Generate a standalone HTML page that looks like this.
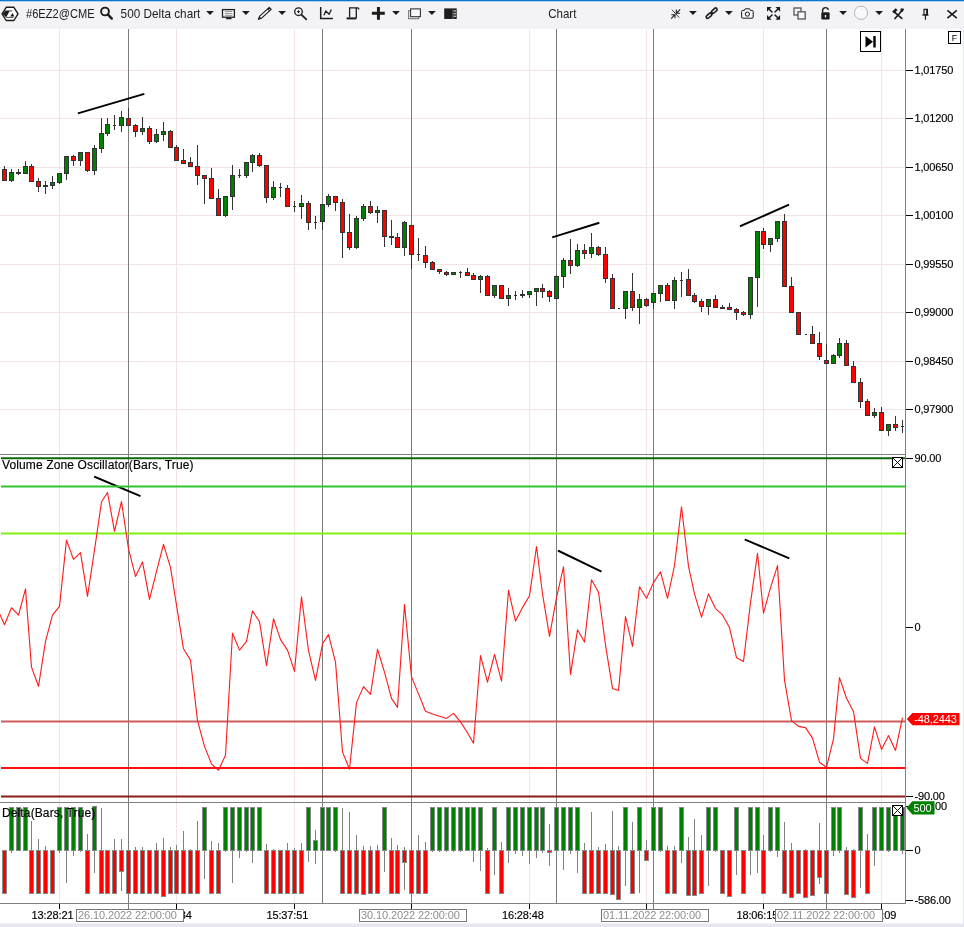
<!DOCTYPE html>
<html><head><meta charset="utf-8"><title>Chart</title>
<style>html,body{margin:0;padding:0;background:#fff}svg{display:block}text{font-family:"Liberation Sans",Arial,sans-serif}</style></head><body>
<svg width="964" height="927" viewBox="0 0 964 927">
<rect width="964" height="927" fill="#fff"/>
<g stroke="#f0e4e7" stroke-width="1" shape-rendering="crispEdges">
<line x1="59.5" y1="29" x2="59.5" y2="903"/>
<line x1="176.5" y1="29" x2="176.5" y2="903"/>
<line x1="294.5" y1="29" x2="294.5" y2="903"/>
<line x1="411.5" y1="29" x2="411.5" y2="903"/>
<line x1="529.5" y1="29" x2="529.5" y2="903"/>
<line x1="646.5" y1="29" x2="646.5" y2="903"/>
<line x1="763.5" y1="29" x2="763.5" y2="903"/>
<line x1="881.5" y1="29" x2="881.5" y2="903"/>
<line x1="0" y1="70.5" x2="905" y2="70.5"/>
<line x1="0" y1="118.5" x2="905" y2="118.5"/>
<line x1="0" y1="167.5" x2="905" y2="167.5"/>
<line x1="0" y1="215.5" x2="905" y2="215.5"/>
<line x1="0" y1="264.5" x2="905" y2="264.5"/>
<line x1="0" y1="312.5" x2="905" y2="312.5"/>
<line x1="0" y1="361.5" x2="905" y2="361.5"/>
<line x1="0" y1="409.5" x2="905" y2="409.5"/>
</g>
<g stroke="#7c7c7c" stroke-width="1" shape-rendering="crispEdges">
<line x1="128.5" y1="29" x2="128.5" y2="903"/>
<line x1="322.5" y1="29" x2="322.5" y2="903"/>
<line x1="411.5" y1="29" x2="411.5" y2="903"/>
<line x1="556.5" y1="29" x2="556.5" y2="903"/>
<line x1="653.5" y1="29" x2="653.5" y2="903"/>
<line x1="826.5" y1="29" x2="826.5" y2="903"/>
</g>
<g shape-rendering="crispEdges">
<rect x="4.0" y="166" width="1" height="15" fill="#333"/>
<rect x="2.0" y="169" width="5" height="12" fill="#333"/>
<rect x="3.0" y="170" width="3" height="10" fill="#ff0000"/>
<rect x="11.0" y="169" width="1" height="13" fill="#333"/>
<rect x="9.0" y="172" width="5" height="9" fill="#333"/>
<rect x="10.0" y="173" width="3" height="7" fill="#008000"/>
<rect x="18.0" y="169" width="1" height="6" fill="#333"/>
<rect x="16.0" y="172" width="5" height="2" fill="#333"/>
<rect x="25.0" y="161" width="1" height="13" fill="#333"/>
<rect x="23.0" y="166" width="5" height="8" fill="#333"/>
<rect x="24.0" y="167" width="3" height="6" fill="#008000"/>
<rect x="31.0" y="164" width="1" height="18" fill="#333"/>
<rect x="29.0" y="166" width="5" height="16" fill="#333"/>
<rect x="30.0" y="167" width="3" height="14" fill="#ff0000"/>
<rect x="38.0" y="178" width="1" height="14" fill="#333"/>
<rect x="36.0" y="181" width="5" height="6" fill="#333"/>
<rect x="37.0" y="182" width="3" height="4" fill="#ff0000"/>
<rect x="45.0" y="181" width="1" height="13" fill="#333"/>
<rect x="43.0" y="185" width="5" height="2" fill="#333"/>
<rect x="52.0" y="176" width="1" height="13" fill="#333"/>
<rect x="50.0" y="182" width="5" height="4" fill="#333"/>
<rect x="51.0" y="183" width="3" height="2" fill="#008000"/>
<rect x="59.0" y="173" width="1" height="11" fill="#333"/>
<rect x="57.0" y="173" width="5" height="10" fill="#333"/>
<rect x="58.0" y="174" width="3" height="8" fill="#008000"/>
<rect x="66.0" y="156" width="1" height="24" fill="#333"/>
<rect x="64.0" y="156" width="5" height="18" fill="#333"/>
<rect x="65.0" y="157" width="3" height="16" fill="#008000"/>
<rect x="73.0" y="155" width="1" height="11" fill="#333"/>
<rect x="71.0" y="156" width="5" height="5" fill="#333"/>
<rect x="72.0" y="157" width="3" height="3" fill="#ff0000"/>
<rect x="80.0" y="152" width="1" height="14" fill="#333"/>
<rect x="78.0" y="152" width="5" height="9" fill="#333"/>
<rect x="79.0" y="153" width="3" height="7" fill="#008000"/>
<rect x="87.0" y="152" width="1" height="20" fill="#333"/>
<rect x="85.0" y="152" width="5" height="19" fill="#333"/>
<rect x="86.0" y="153" width="3" height="17" fill="#ff0000"/>
<rect x="94.0" y="145" width="1" height="30" fill="#333"/>
<rect x="92.0" y="148" width="5" height="23" fill="#333"/>
<rect x="93.0" y="149" width="3" height="21" fill="#008000"/>
<rect x="101.0" y="118" width="1" height="35" fill="#333"/>
<rect x="99.0" y="133" width="5" height="16" fill="#333"/>
<rect x="100.0" y="134" width="3" height="14" fill="#008000"/>
<rect x="107.0" y="118" width="1" height="18" fill="#333"/>
<rect x="105.0" y="124" width="5" height="10" fill="#333"/>
<rect x="106.0" y="125" width="3" height="8" fill="#008000"/>
<rect x="114.0" y="115" width="1" height="15" fill="#333"/>
<rect x="113.0" y="125" width="3" height="1" fill="#333"/>
<rect x="121.0" y="111" width="1" height="21" fill="#333"/>
<rect x="119.0" y="117" width="5" height="9" fill="#333"/>
<rect x="120.0" y="118" width="3" height="7" fill="#008000"/>
<rect x="128.0" y="108" width="1" height="18" fill="#333"/>
<rect x="126.0" y="118" width="5" height="8" fill="#333"/>
<rect x="127.0" y="119" width="3" height="6" fill="#ff0000"/>
<rect x="135.0" y="124" width="1" height="13" fill="#333"/>
<rect x="133.0" y="125" width="5" height="7" fill="#333"/>
<rect x="134.0" y="126" width="3" height="5" fill="#ff0000"/>
<rect x="142.0" y="117" width="1" height="18" fill="#333"/>
<rect x="140.0" y="128" width="5" height="4" fill="#333"/>
<rect x="141.0" y="129" width="3" height="2" fill="#008000"/>
<rect x="149.0" y="126" width="1" height="18" fill="#333"/>
<rect x="147.0" y="128" width="5" height="14" fill="#333"/>
<rect x="148.0" y="129" width="3" height="12" fill="#ff0000"/>
<rect x="156.0" y="129" width="1" height="14" fill="#333"/>
<rect x="154.0" y="134" width="5" height="8" fill="#333"/>
<rect x="155.0" y="135" width="3" height="6" fill="#008000"/>
<rect x="163.0" y="122" width="1" height="19" fill="#333"/>
<rect x="161.0" y="131" width="5" height="4" fill="#333"/>
<rect x="162.0" y="132" width="3" height="2" fill="#008000"/>
<rect x="170.0" y="130" width="1" height="17" fill="#333"/>
<rect x="168.0" y="131" width="5" height="17" fill="#333"/>
<rect x="169.0" y="132" width="3" height="15" fill="#ff0000"/>
<rect x="176.0" y="145" width="1" height="16" fill="#333"/>
<rect x="174.0" y="147" width="5" height="14" fill="#333"/>
<rect x="175.0" y="148" width="3" height="12" fill="#ff0000"/>
<rect x="183.0" y="149" width="1" height="15" fill="#333"/>
<rect x="181.0" y="160" width="5" height="4" fill="#333"/>
<rect x="182.0" y="161" width="3" height="2" fill="#ff0000"/>
<rect x="190.0" y="157" width="1" height="9" fill="#333"/>
<rect x="188.0" y="162" width="5" height="5" fill="#333"/>
<rect x="189.0" y="163" width="3" height="3" fill="#ff0000"/>
<rect x="197.0" y="145" width="1" height="40" fill="#333"/>
<rect x="195.0" y="166" width="5" height="10" fill="#333"/>
<rect x="196.0" y="167" width="3" height="8" fill="#ff0000"/>
<rect x="204.0" y="175" width="1" height="29" fill="#333"/>
<rect x="202.0" y="175" width="5" height="4" fill="#333"/>
<rect x="203.0" y="176" width="3" height="2" fill="#ff0000"/>
<rect x="211.0" y="168" width="1" height="31" fill="#333"/>
<rect x="209.0" y="178" width="5" height="21" fill="#333"/>
<rect x="210.0" y="179" width="3" height="19" fill="#ff0000"/>
<rect x="218.0" y="189" width="1" height="26" fill="#333"/>
<rect x="216.0" y="198" width="5" height="18" fill="#333"/>
<rect x="217.0" y="199" width="3" height="16" fill="#ff0000"/>
<rect x="225.0" y="196" width="1" height="21" fill="#333"/>
<rect x="223.0" y="196" width="5" height="20" fill="#333"/>
<rect x="224.0" y="197" width="3" height="18" fill="#008000"/>
<rect x="232.0" y="165" width="1" height="45" fill="#333"/>
<rect x="230.0" y="175" width="5" height="22" fill="#333"/>
<rect x="231.0" y="176" width="3" height="20" fill="#008000"/>
<rect x="239.0" y="169" width="1" height="9" fill="#333"/>
<rect x="238.0" y="175" width="3" height="1" fill="#333"/>
<rect x="246.0" y="162" width="1" height="16" fill="#333"/>
<rect x="244.0" y="162" width="5" height="14" fill="#333"/>
<rect x="245.0" y="163" width="3" height="12" fill="#008000"/>
<rect x="252.0" y="154" width="1" height="18" fill="#333"/>
<rect x="250.0" y="155" width="5" height="8" fill="#333"/>
<rect x="251.0" y="156" width="3" height="6" fill="#008000"/>
<rect x="259.0" y="153" width="1" height="14" fill="#333"/>
<rect x="257.0" y="155" width="5" height="11" fill="#333"/>
<rect x="258.0" y="156" width="3" height="9" fill="#ff0000"/>
<rect x="266.0" y="165" width="1" height="38" fill="#333"/>
<rect x="264.0" y="165" width="5" height="33" fill="#333"/>
<rect x="265.0" y="166" width="3" height="31" fill="#ff0000"/>
<rect x="273.0" y="181" width="1" height="19" fill="#333"/>
<rect x="271.0" y="187" width="5" height="11" fill="#333"/>
<rect x="272.0" y="188" width="3" height="9" fill="#008000"/>
<rect x="280.0" y="183" width="1" height="14" fill="#333"/>
<rect x="279.0" y="187" width="3" height="1" fill="#333"/>
<rect x="287.0" y="185" width="1" height="21" fill="#333"/>
<rect x="285.0" y="188" width="5" height="19" fill="#333"/>
<rect x="286.0" y="189" width="3" height="17" fill="#ff0000"/>
<rect x="294.0" y="201" width="1" height="11" fill="#333"/>
<rect x="293.0" y="206" width="3" height="1" fill="#333"/>
<rect x="301.0" y="195" width="1" height="24" fill="#333"/>
<rect x="299.0" y="203" width="5" height="4" fill="#333"/>
<rect x="300.0" y="204" width="3" height="2" fill="#008000"/>
<rect x="308.0" y="201" width="1" height="29" fill="#333"/>
<rect x="306.0" y="203" width="5" height="20" fill="#333"/>
<rect x="307.0" y="204" width="3" height="18" fill="#ff0000"/>
<rect x="315.0" y="216" width="1" height="13" fill="#333"/>
<rect x="314.0" y="222" width="3" height="1" fill="#333"/>
<rect x="322.0" y="204" width="1" height="26" fill="#333"/>
<rect x="320.0" y="204" width="5" height="18" fill="#333"/>
<rect x="321.0" y="205" width="3" height="16" fill="#008000"/>
<rect x="328.0" y="194" width="1" height="13" fill="#333"/>
<rect x="326.0" y="196" width="5" height="9" fill="#333"/>
<rect x="327.0" y="197" width="3" height="7" fill="#008000"/>
<rect x="335.0" y="196" width="1" height="15" fill="#333"/>
<rect x="333.0" y="196" width="5" height="7" fill="#333"/>
<rect x="334.0" y="197" width="3" height="5" fill="#ff0000"/>
<rect x="342.0" y="199" width="1" height="59" fill="#333"/>
<rect x="340.0" y="202" width="5" height="31" fill="#333"/>
<rect x="341.0" y="203" width="3" height="29" fill="#ff0000"/>
<rect x="349.0" y="214" width="1" height="36" fill="#333"/>
<rect x="347.0" y="232" width="5" height="16" fill="#333"/>
<rect x="348.0" y="233" width="3" height="14" fill="#ff0000"/>
<rect x="356.0" y="216" width="1" height="33" fill="#333"/>
<rect x="354.0" y="218" width="5" height="30" fill="#333"/>
<rect x="355.0" y="219" width="3" height="28" fill="#008000"/>
<rect x="363.0" y="204" width="1" height="17" fill="#333"/>
<rect x="361.0" y="206" width="5" height="13" fill="#333"/>
<rect x="362.0" y="207" width="3" height="11" fill="#008000"/>
<rect x="370.0" y="201" width="1" height="13" fill="#333"/>
<rect x="368.0" y="206" width="5" height="7" fill="#333"/>
<rect x="369.0" y="207" width="3" height="5" fill="#ff0000"/>
<rect x="377.0" y="206" width="1" height="17" fill="#333"/>
<rect x="375.0" y="210" width="5" height="3" fill="#333"/>
<rect x="376.0" y="211" width="3" height="1" fill="#008000"/>
<rect x="384.0" y="210" width="1" height="37" fill="#333"/>
<rect x="382.0" y="210" width="5" height="27" fill="#333"/>
<rect x="383.0" y="211" width="3" height="25" fill="#ff0000"/>
<rect x="391.0" y="220" width="1" height="25" fill="#333"/>
<rect x="389.0" y="236" width="5" height="2" fill="#333"/>
<rect x="397.0" y="233" width="1" height="15" fill="#333"/>
<rect x="395.0" y="237" width="5" height="11" fill="#333"/>
<rect x="396.0" y="238" width="3" height="9" fill="#ff0000"/>
<rect x="404.0" y="221" width="1" height="35" fill="#333"/>
<rect x="402.0" y="222" width="5" height="26" fill="#333"/>
<rect x="403.0" y="223" width="3" height="24" fill="#008000"/>
<rect x="411.0" y="225" width="1" height="44" fill="#333"/>
<rect x="409.0" y="225" width="5" height="30" fill="#333"/>
<rect x="410.0" y="226" width="3" height="28" fill="#ff0000"/>
<rect x="418.0" y="238" width="1" height="23" fill="#333"/>
<rect x="417.0" y="254" width="3" height="1" fill="#333"/>
<rect x="425.0" y="246" width="1" height="22" fill="#333"/>
<rect x="423.0" y="255" width="5" height="8" fill="#333"/>
<rect x="424.0" y="256" width="3" height="6" fill="#ff0000"/>
<rect x="432.0" y="261" width="1" height="9" fill="#333"/>
<rect x="430.0" y="262" width="5" height="8" fill="#333"/>
<rect x="431.0" y="263" width="3" height="6" fill="#ff0000"/>
<rect x="439.0" y="269" width="1" height="5" fill="#333"/>
<rect x="437.0" y="269" width="5" height="3" fill="#333"/>
<rect x="438.0" y="270" width="3" height="1" fill="#ff0000"/>
<rect x="446.0" y="271" width="1" height="5" fill="#333"/>
<rect x="444.0" y="272" width="5" height="3" fill="#333"/>
<rect x="445.0" y="273" width="3" height="1" fill="#ff0000"/>
<rect x="453.0" y="272" width="1" height="3" fill="#333"/>
<rect x="451.0" y="272" width="5" height="3" fill="#333"/>
<rect x="452.0" y="273" width="3" height="1" fill="#008000"/>
<rect x="460.0" y="271" width="1" height="7" fill="#333"/>
<rect x="459.0" y="272" width="3" height="1" fill="#333"/>
<rect x="467.0" y="268" width="1" height="8" fill="#333"/>
<rect x="465.0" y="272" width="5" height="4" fill="#333"/>
<rect x="466.0" y="273" width="3" height="2" fill="#ff0000"/>
<rect x="473.0" y="273" width="1" height="7" fill="#333"/>
<rect x="471.0" y="275" width="5" height="5" fill="#333"/>
<rect x="472.0" y="276" width="3" height="3" fill="#ff0000"/>
<rect x="480.0" y="275" width="1" height="18" fill="#333"/>
<rect x="478.0" y="276" width="5" height="4" fill="#333"/>
<rect x="479.0" y="277" width="3" height="2" fill="#008000"/>
<rect x="487.0" y="275" width="1" height="21" fill="#333"/>
<rect x="485.0" y="276" width="5" height="20" fill="#333"/>
<rect x="486.0" y="277" width="3" height="18" fill="#ff0000"/>
<rect x="494.0" y="285" width="1" height="13" fill="#333"/>
<rect x="492.0" y="285" width="5" height="11" fill="#333"/>
<rect x="493.0" y="286" width="3" height="9" fill="#008000"/>
<rect x="501.0" y="285" width="1" height="13" fill="#333"/>
<rect x="499.0" y="285" width="5" height="14" fill="#333"/>
<rect x="500.0" y="286" width="3" height="12" fill="#ff0000"/>
<rect x="508.0" y="288" width="1" height="18" fill="#333"/>
<rect x="506.0" y="295" width="5" height="4" fill="#333"/>
<rect x="507.0" y="296" width="3" height="2" fill="#008000"/>
<rect x="515.0" y="291" width="1" height="9" fill="#333"/>
<rect x="514.0" y="295" width="3" height="1" fill="#333"/>
<rect x="522.0" y="290" width="1" height="8" fill="#333"/>
<rect x="520.0" y="294" width="5" height="2" fill="#333"/>
<rect x="529.0" y="291" width="1" height="7" fill="#333"/>
<rect x="527.0" y="291" width="5" height="4" fill="#333"/>
<rect x="528.0" y="292" width="3" height="2" fill="#008000"/>
<rect x="536.0" y="288" width="1" height="18" fill="#333"/>
<rect x="534.0" y="288" width="5" height="4" fill="#333"/>
<rect x="535.0" y="289" width="3" height="2" fill="#008000"/>
<rect x="542.0" y="284" width="1" height="14" fill="#333"/>
<rect x="540.0" y="288" width="5" height="4" fill="#333"/>
<rect x="541.0" y="289" width="3" height="2" fill="#ff0000"/>
<rect x="549.0" y="290" width="1" height="12" fill="#333"/>
<rect x="547.0" y="291" width="5" height="6" fill="#333"/>
<rect x="548.0" y="292" width="3" height="4" fill="#ff0000"/>
<rect x="556.0" y="275" width="1" height="24" fill="#333"/>
<rect x="554.0" y="276" width="5" height="23" fill="#333"/>
<rect x="555.0" y="277" width="3" height="21" fill="#008000"/>
<rect x="563.0" y="258" width="1" height="30" fill="#333"/>
<rect x="561.0" y="260" width="5" height="17" fill="#333"/>
<rect x="562.0" y="261" width="3" height="15" fill="#008000"/>
<rect x="570.0" y="239" width="1" height="35" fill="#333"/>
<rect x="568.0" y="260" width="5" height="6" fill="#333"/>
<rect x="569.0" y="261" width="3" height="4" fill="#ff0000"/>
<rect x="577.0" y="244" width="1" height="23" fill="#333"/>
<rect x="575.0" y="250" width="5" height="16" fill="#333"/>
<rect x="576.0" y="251" width="3" height="14" fill="#008000"/>
<rect x="584.0" y="244" width="1" height="15" fill="#333"/>
<rect x="582.0" y="250" width="5" height="4" fill="#333"/>
<rect x="583.0" y="251" width="3" height="2" fill="#ff0000"/>
<rect x="591.0" y="233" width="1" height="25" fill="#333"/>
<rect x="589.0" y="247" width="5" height="7" fill="#333"/>
<rect x="590.0" y="248" width="3" height="5" fill="#008000"/>
<rect x="598.0" y="246" width="1" height="10" fill="#333"/>
<rect x="596.0" y="247" width="5" height="8" fill="#333"/>
<rect x="597.0" y="248" width="3" height="6" fill="#ff0000"/>
<rect x="605.0" y="247" width="1" height="36" fill="#333"/>
<rect x="603.0" y="254" width="5" height="25" fill="#333"/>
<rect x="604.0" y="255" width="3" height="23" fill="#ff0000"/>
<rect x="612.0" y="274" width="1" height="35" fill="#333"/>
<rect x="610.0" y="278" width="5" height="31" fill="#333"/>
<rect x="611.0" y="279" width="3" height="29" fill="#ff0000"/>
<rect x="617.5" y="308" width="2" height="1" fill="#333"/>
<rect x="625.0" y="291" width="1" height="28" fill="#333"/>
<rect x="623.0" y="291" width="5" height="18" fill="#333"/>
<rect x="624.0" y="292" width="3" height="16" fill="#008000"/>
<rect x="632.0" y="273" width="1" height="38" fill="#333"/>
<rect x="630.0" y="291" width="5" height="17" fill="#333"/>
<rect x="631.0" y="292" width="3" height="15" fill="#ff0000"/>
<rect x="639.0" y="294" width="1" height="30" fill="#333"/>
<rect x="637.0" y="299" width="5" height="9" fill="#333"/>
<rect x="638.0" y="300" width="3" height="7" fill="#008000"/>
<rect x="646.0" y="298" width="1" height="9" fill="#333"/>
<rect x="644.0" y="299" width="5" height="7" fill="#333"/>
<rect x="645.0" y="300" width="3" height="5" fill="#ff0000"/>
<rect x="653.0" y="293" width="1" height="16" fill="#333"/>
<rect x="651.0" y="293" width="5" height="10" fill="#333"/>
<rect x="652.0" y="294" width="3" height="8" fill="#008000"/>
<rect x="660.0" y="285" width="1" height="17" fill="#333"/>
<rect x="658.0" y="285" width="5" height="9" fill="#333"/>
<rect x="659.0" y="286" width="3" height="7" fill="#008000"/>
<rect x="667.0" y="283" width="1" height="18" fill="#333"/>
<rect x="665.0" y="285" width="5" height="16" fill="#333"/>
<rect x="666.0" y="286" width="3" height="14" fill="#ff0000"/>
<rect x="674.0" y="277" width="1" height="32" fill="#333"/>
<rect x="672.0" y="280" width="5" height="21" fill="#333"/>
<rect x="673.0" y="281" width="3" height="19" fill="#008000"/>
<rect x="681.0" y="272" width="1" height="25" fill="#333"/>
<rect x="680.0" y="280" width="3" height="1" fill="#333"/>
<rect x="688.0" y="269" width="1" height="27" fill="#333"/>
<rect x="686.0" y="279" width="5" height="17" fill="#333"/>
<rect x="687.0" y="280" width="3" height="15" fill="#ff0000"/>
<rect x="694.0" y="293" width="1" height="10" fill="#333"/>
<rect x="692.0" y="295" width="5" height="7" fill="#333"/>
<rect x="693.0" y="296" width="3" height="5" fill="#ff0000"/>
<rect x="701.0" y="299" width="1" height="13" fill="#333"/>
<rect x="699.0" y="301" width="5" height="6" fill="#333"/>
<rect x="700.0" y="302" width="3" height="4" fill="#ff0000"/>
<rect x="708.0" y="299" width="1" height="16" fill="#333"/>
<rect x="706.0" y="299" width="5" height="8" fill="#333"/>
<rect x="707.0" y="300" width="3" height="6" fill="#008000"/>
<rect x="715.0" y="295" width="1" height="13" fill="#333"/>
<rect x="713.0" y="299" width="5" height="9" fill="#333"/>
<rect x="714.0" y="300" width="3" height="7" fill="#ff0000"/>
<rect x="722.0" y="305" width="1" height="3" fill="#333"/>
<rect x="720.0" y="307" width="5" height="2" fill="#333"/>
<rect x="729.0" y="303" width="1" height="7" fill="#333"/>
<rect x="727.0" y="307" width="5" height="3" fill="#333"/>
<rect x="728.0" y="308" width="3" height="1" fill="#ff0000"/>
<rect x="736.0" y="308" width="1" height="12" fill="#333"/>
<rect x="734.0" y="309" width="5" height="4" fill="#333"/>
<rect x="735.0" y="310" width="3" height="2" fill="#ff0000"/>
<rect x="743.0" y="311" width="1" height="5" fill="#333"/>
<rect x="741.0" y="312" width="5" height="3" fill="#333"/>
<rect x="742.0" y="313" width="3" height="1" fill="#ff0000"/>
<rect x="750.0" y="277" width="1" height="42" fill="#333"/>
<rect x="748.0" y="277" width="5" height="38" fill="#333"/>
<rect x="749.0" y="278" width="3" height="36" fill="#008000"/>
<rect x="757.0" y="231" width="1" height="76" fill="#333"/>
<rect x="755.0" y="231" width="5" height="47" fill="#333"/>
<rect x="756.0" y="232" width="3" height="45" fill="#008000"/>
<rect x="763.0" y="228" width="1" height="21" fill="#333"/>
<rect x="761.0" y="231" width="5" height="14" fill="#333"/>
<rect x="762.0" y="232" width="3" height="12" fill="#ff0000"/>
<rect x="770.0" y="238" width="1" height="14" fill="#333"/>
<rect x="768.0" y="238" width="5" height="7" fill="#333"/>
<rect x="769.0" y="239" width="3" height="5" fill="#008000"/>
<rect x="777.0" y="221" width="1" height="21" fill="#333"/>
<rect x="775.0" y="221" width="5" height="18" fill="#333"/>
<rect x="776.0" y="222" width="3" height="16" fill="#008000"/>
<rect x="784.0" y="214" width="1" height="72" fill="#333"/>
<rect x="782.0" y="221" width="5" height="66" fill="#333"/>
<rect x="783.0" y="222" width="3" height="64" fill="#ff0000"/>
<rect x="791.0" y="277" width="1" height="35" fill="#333"/>
<rect x="789.0" y="286" width="5" height="27" fill="#333"/>
<rect x="790.0" y="287" width="3" height="25" fill="#ff0000"/>
<rect x="798.0" y="312" width="1" height="22" fill="#333"/>
<rect x="796.0" y="312" width="5" height="23" fill="#333"/>
<rect x="797.0" y="313" width="3" height="21" fill="#ff0000"/>
<rect x="804.5" y="334" width="2" height="1" fill="#333"/>
<rect x="812.0" y="326" width="1" height="17" fill="#333"/>
<rect x="810.0" y="334" width="5" height="10" fill="#333"/>
<rect x="811.0" y="335" width="3" height="8" fill="#ff0000"/>
<rect x="819.0" y="332" width="1" height="28" fill="#333"/>
<rect x="817.0" y="343" width="5" height="14" fill="#333"/>
<rect x="818.0" y="344" width="3" height="12" fill="#ff0000"/>
<rect x="826.0" y="344" width="1" height="19" fill="#333"/>
<rect x="824.0" y="360" width="5" height="4" fill="#333"/>
<rect x="825.0" y="361" width="3" height="2" fill="#ff0000"/>
<rect x="833.0" y="354" width="1" height="10" fill="#333"/>
<rect x="831.0" y="355" width="5" height="9" fill="#333"/>
<rect x="832.0" y="356" width="3" height="7" fill="#008000"/>
<rect x="839.0" y="338" width="1" height="20" fill="#333"/>
<rect x="837.0" y="343" width="5" height="13" fill="#333"/>
<rect x="838.0" y="344" width="3" height="11" fill="#008000"/>
<rect x="846.0" y="340" width="1" height="25" fill="#333"/>
<rect x="844.0" y="343" width="5" height="23" fill="#333"/>
<rect x="845.0" y="344" width="3" height="21" fill="#ff0000"/>
<rect x="853.0" y="361" width="1" height="21" fill="#333"/>
<rect x="851.0" y="366" width="5" height="17" fill="#333"/>
<rect x="852.0" y="367" width="3" height="15" fill="#ff0000"/>
<rect x="860.0" y="378" width="1" height="30" fill="#333"/>
<rect x="858.0" y="382" width="5" height="20" fill="#333"/>
<rect x="859.0" y="383" width="3" height="18" fill="#ff0000"/>
<rect x="867.0" y="399" width="1" height="17" fill="#333"/>
<rect x="865.0" y="401" width="5" height="15" fill="#333"/>
<rect x="866.0" y="402" width="3" height="13" fill="#ff0000"/>
<rect x="874.0" y="408" width="1" height="10" fill="#333"/>
<rect x="872.0" y="412" width="5" height="4" fill="#333"/>
<rect x="873.0" y="413" width="3" height="2" fill="#008000"/>
<rect x="881.0" y="407" width="1" height="24" fill="#333"/>
<rect x="879.0" y="412" width="5" height="19" fill="#333"/>
<rect x="880.0" y="413" width="3" height="17" fill="#ff0000"/>
<rect x="888.0" y="424" width="1" height="12" fill="#333"/>
<rect x="886.0" y="424" width="5" height="7" fill="#333"/>
<rect x="887.0" y="425" width="3" height="5" fill="#008000"/>
<rect x="895.0" y="416" width="1" height="15" fill="#333"/>
<rect x="893.0" y="424" width="5" height="4" fill="#333"/>
<rect x="894.0" y="425" width="3" height="2" fill="#ff0000"/>
<rect x="902.0" y="420" width="1" height="13" fill="#333"/>
<rect x="901.0" y="426" width="3" height="1" fill="#333"/>
</g>
<g stroke="#000" stroke-width="1.95" stroke-linecap="square">
<line x1="78.8" y1="113.1" x2="143.4" y2="94.1"/>
<line x1="553.1" y1="237.1" x2="598.4" y2="223"/>
<line x1="740.8" y1="226" x2="788.1" y2="205"/>
<line x1="95" y1="477" x2="139.6" y2="495.8"/>
<line x1="558.8" y1="551" x2="600.6" y2="571.3"/>
<line x1="745.6" y1="539.8" x2="788.4" y2="558"/>
</g>
<g shape-rendering="crispEdges">
<rect x="0" y="454" width="906" height="1" fill="#808080"/>
<rect x="0" y="802" width="906" height="1" fill="#808080"/>
<rect x="0" y="903" width="906" height="1" fill="#808080"/>
<rect x="905" y="29" width="1" height="875" fill="#808080"/>
<rect x="1" y="457.25" width="904" height="2" fill="#0b6b0b" shape-rendering="auto"/>
<rect x="1" y="485.5" width="904" height="2" fill="#33c433" shape-rendering="auto"/>
<rect x="1" y="532.5" width="904" height="2" fill="#80f010" shape-rendering="auto"/>
<rect x="1" y="720.5" width="904" height="2" fill="#cd5c5c" shape-rendering="auto"/>
<rect x="1" y="767" width="904" height="2" fill="#ff1010" shape-rendering="auto"/>
<rect x="1" y="795.5" width="904" height="2" fill="#8b1a1a" shape-rendering="auto"/>
</g>
<polyline points="-2.5,609.2 4.5,624.7 11.5,607.7 18.5,615.2 25.5,588.9 31.5,667.1 38.5,686.3 45.5,641.4 52.5,615.2 59.5,606.4 66.5,540.1 73.5,559.4 80.5,552.6 87.5,596.4 94.5,550.1 101.5,502.0 107.5,492.5 114.5,531.3 121.5,501.5 128.5,548.8 135.5,576.4 142.5,561.9 149.5,599.4 156.5,571.4 163.5,544.3 170.5,567.6 176.5,605.2 183.5,648.8 190.5,660.1 197.5,720.6 204.5,746.4 211.5,763.9 218.5,770.2 225.5,755.2 232.5,633.3 239.5,650.1 246.5,641.3 252.5,610.8 259.5,621.8 266.5,665.6 273.5,618.8 280.5,639.6 287.5,650.1 294.5,671.4 301.5,596.8 308.5,650.6 315.5,680.4 322.5,643.8 328.5,634.6 335.5,662.1 342.5,751.9 349.5,769.2 356.5,702.6 363.5,686.6 370.5,694.4 377.5,649.3 384.5,672.1 391.5,698.4 397.5,707.4 404.5,604.5 411.5,676.9 418.5,693.9 425.5,711.2 432.5,713.9 439.5,716.2 446.5,718.4 453.5,713.4 460.5,721.9 467.5,732.7 473.5,743.2 480.5,655.6 487.5,682.2 494.5,654.4 501.5,681.2 508.5,590.3 515.5,621.1 522.5,607.6 529.5,595.8 536.5,546.5 542.5,593.8 549.5,636.4 556.5,597.6 563.5,566.8 570.5,674.4 577.5,629.8 584.5,642.1 591.5,579.8 598.5,592.3 605.5,645.1 612.5,688.4 618.5,690.4 625.5,616.6 632.5,646.4 639.5,586.8 646.5,598.3 653.5,582.6 660.5,571.8 667.5,598.3 674.5,565.5 681.5,506.8 688.5,566.3 694.5,593.9 701.5,617.1 708.5,593.9 715.5,608.6 722.5,614.9 729.5,627.6 736.5,657.7 743.5,661.4 750.5,602.6 757.5,553.3 763.5,613.1 770.5,587.6 777.5,565.6 784.5,680.1 791.5,720.6 798.5,726.4 805.5,727.6 812.5,738.1 819.5,762.2 826.5,767.2 833.5,738.9 839.5,677.6 846.5,698.3 853.5,711.4 860.5,758.4 867.5,763.4 874.5,726.9 881.5,749.4 888.5,735.6 895.5,750.4 902.5,717.6" fill="none" stroke="#ff1a1a" stroke-width="1.1" stroke-linejoin="round"/>
<g shape-rendering="crispEdges">
<rect x="2.0" y="850" width="5" height="44" fill="#848a8a"/>
<rect x="3.0" y="851" width="3" height="42" fill="#ff0000"/>
<rect x="11.0" y="850" width="1" height="3" fill="#808080"/>
<rect x="9.0" y="807" width="5" height="44" fill="#848a8a"/>
<rect x="10.0" y="808" width="3" height="42" fill="#008000"/>
<rect x="16.0" y="807" width="5" height="44" fill="#848a8a"/>
<rect x="17.0" y="808" width="3" height="42" fill="#008000"/>
<rect x="23.0" y="807" width="5" height="44" fill="#848a8a"/>
<rect x="24.0" y="808" width="3" height="42" fill="#008000"/>
<rect x="31.0" y="821" width="1" height="30" fill="#808080"/>
<rect x="29.0" y="850" width="5" height="44" fill="#848a8a"/>
<rect x="30.0" y="851" width="3" height="42" fill="#ff0000"/>
<rect x="38.0" y="839" width="1" height="12" fill="#808080"/>
<rect x="36.0" y="850" width="5" height="44" fill="#848a8a"/>
<rect x="37.0" y="851" width="3" height="42" fill="#ff0000"/>
<rect x="45.0" y="846" width="1" height="5" fill="#808080"/>
<rect x="43.0" y="850" width="5" height="44" fill="#848a8a"/>
<rect x="44.0" y="851" width="3" height="42" fill="#ff0000"/>
<rect x="50.0" y="850" width="5" height="44" fill="#848a8a"/>
<rect x="51.0" y="851" width="3" height="42" fill="#ff0000"/>
<rect x="59.0" y="850" width="1" height="3" fill="#808080"/>
<rect x="57.0" y="807" width="5" height="44" fill="#848a8a"/>
<rect x="58.0" y="808" width="3" height="42" fill="#008000"/>
<rect x="66.0" y="850" width="1" height="33" fill="#808080"/>
<rect x="64.0" y="807" width="5" height="44" fill="#848a8a"/>
<rect x="65.0" y="808" width="3" height="42" fill="#008000"/>
<rect x="73.0" y="850" width="1" height="6" fill="#808080"/>
<rect x="71.0" y="807" width="5" height="44" fill="#848a8a"/>
<rect x="72.0" y="808" width="3" height="42" fill="#008000"/>
<rect x="80.0" y="850" width="1" height="2" fill="#808080"/>
<rect x="78.0" y="807" width="5" height="44" fill="#848a8a"/>
<rect x="79.0" y="808" width="3" height="42" fill="#008000"/>
<rect x="87.0" y="834" width="1" height="17" fill="#808080"/>
<rect x="85.0" y="850" width="5" height="44" fill="#848a8a"/>
<rect x="86.0" y="851" width="3" height="42" fill="#ff0000"/>
<rect x="94.0" y="850" width="1" height="23" fill="#808080"/>
<rect x="92.0" y="806" width="5" height="45" fill="#848a8a"/>
<rect x="93.0" y="807" width="3" height="43" fill="#008000"/>
<rect x="101.0" y="808" width="1" height="43" fill="#808080"/>
<rect x="99.0" y="850" width="5" height="44" fill="#848a8a"/>
<rect x="100.0" y="851" width="3" height="42" fill="#ff0000"/>
<rect x="105.0" y="850" width="5" height="44" fill="#848a8a"/>
<rect x="106.0" y="851" width="3" height="42" fill="#ff0000"/>
<rect x="114.0" y="839" width="1" height="12" fill="#808080"/>
<rect x="112.0" y="850" width="5" height="44" fill="#848a8a"/>
<rect x="113.0" y="851" width="3" height="42" fill="#ff0000"/>
<rect x="121.0" y="839" width="1" height="52" fill="#808080"/>
<rect x="119.0" y="850" width="5" height="22" fill="#848a8a"/>
<rect x="120.0" y="851" width="3" height="20" fill="#ff0000"/>
<rect x="126.0" y="850" width="5" height="44" fill="#848a8a"/>
<rect x="127.0" y="851" width="3" height="42" fill="#ff0000"/>
<rect x="135.0" y="847" width="1" height="4" fill="#808080"/>
<rect x="133.0" y="850" width="5" height="44" fill="#848a8a"/>
<rect x="134.0" y="851" width="3" height="42" fill="#ff0000"/>
<rect x="142.0" y="847" width="1" height="4" fill="#808080"/>
<rect x="140.0" y="850" width="5" height="44" fill="#848a8a"/>
<rect x="141.0" y="851" width="3" height="42" fill="#ff0000"/>
<rect x="147.0" y="850" width="5" height="44" fill="#848a8a"/>
<rect x="148.0" y="851" width="3" height="42" fill="#ff0000"/>
<rect x="156.0" y="843" width="1" height="8" fill="#808080"/>
<rect x="154.0" y="850" width="5" height="44" fill="#848a8a"/>
<rect x="155.0" y="851" width="3" height="42" fill="#ff0000"/>
<rect x="163.0" y="838" width="1" height="13" fill="#808080"/>
<rect x="161.0" y="850" width="5" height="47" fill="#848a8a"/>
<rect x="162.0" y="851" width="3" height="45" fill="#ff0000"/>
<rect x="170.0" y="847" width="1" height="4" fill="#808080"/>
<rect x="168.0" y="850" width="5" height="44" fill="#848a8a"/>
<rect x="169.0" y="851" width="3" height="42" fill="#ff0000"/>
<rect x="176.0" y="845" width="1" height="6" fill="#808080"/>
<rect x="174.0" y="850" width="5" height="44" fill="#848a8a"/>
<rect x="175.0" y="851" width="3" height="42" fill="#ff0000"/>
<rect x="183.0" y="831" width="1" height="20" fill="#808080"/>
<rect x="181.0" y="850" width="5" height="44" fill="#848a8a"/>
<rect x="182.0" y="851" width="3" height="42" fill="#ff0000"/>
<rect x="190.0" y="849" width="1" height="2" fill="#808080"/>
<rect x="188.0" y="850" width="5" height="44" fill="#848a8a"/>
<rect x="189.0" y="851" width="3" height="42" fill="#ff0000"/>
<rect x="197.0" y="821" width="1" height="30" fill="#808080"/>
<rect x="195.0" y="850" width="5" height="44" fill="#848a8a"/>
<rect x="196.0" y="851" width="3" height="42" fill="#ff0000"/>
<rect x="204.0" y="850" width="1" height="29" fill="#808080"/>
<rect x="202.0" y="807" width="5" height="44" fill="#848a8a"/>
<rect x="203.0" y="808" width="3" height="42" fill="#008000"/>
<rect x="211.0" y="841" width="1" height="10" fill="#808080"/>
<rect x="209.0" y="850" width="5" height="44" fill="#848a8a"/>
<rect x="210.0" y="851" width="3" height="42" fill="#ff0000"/>
<rect x="218.0" y="843" width="1" height="8" fill="#808080"/>
<rect x="216.0" y="850" width="5" height="44" fill="#848a8a"/>
<rect x="217.0" y="851" width="3" height="42" fill="#ff0000"/>
<rect x="225.0" y="850" width="1" height="2" fill="#808080"/>
<rect x="223.0" y="807" width="5" height="44" fill="#848a8a"/>
<rect x="224.0" y="808" width="3" height="42" fill="#008000"/>
<rect x="232.0" y="850" width="1" height="33" fill="#808080"/>
<rect x="230.0" y="807" width="5" height="44" fill="#848a8a"/>
<rect x="231.0" y="808" width="3" height="42" fill="#008000"/>
<rect x="239.0" y="850" width="1" height="8" fill="#808080"/>
<rect x="237.0" y="807" width="5" height="44" fill="#848a8a"/>
<rect x="238.0" y="808" width="3" height="42" fill="#008000"/>
<rect x="246.0" y="850" width="1" height="2" fill="#808080"/>
<rect x="244.0" y="807" width="5" height="44" fill="#848a8a"/>
<rect x="245.0" y="808" width="3" height="42" fill="#008000"/>
<rect x="252.0" y="850" width="1" height="13" fill="#808080"/>
<rect x="250.0" y="807" width="5" height="44" fill="#848a8a"/>
<rect x="251.0" y="808" width="3" height="42" fill="#008000"/>
<rect x="257.0" y="807" width="5" height="44" fill="#848a8a"/>
<rect x="258.0" y="808" width="3" height="42" fill="#008000"/>
<rect x="266.0" y="844" width="1" height="7" fill="#808080"/>
<rect x="264.0" y="850" width="5" height="44" fill="#848a8a"/>
<rect x="265.0" y="851" width="3" height="42" fill="#ff0000"/>
<rect x="273.0" y="849" width="1" height="2" fill="#808080"/>
<rect x="271.0" y="850" width="5" height="44" fill="#848a8a"/>
<rect x="272.0" y="851" width="3" height="42" fill="#ff0000"/>
<rect x="278.0" y="850" width="5" height="44" fill="#848a8a"/>
<rect x="279.0" y="851" width="3" height="42" fill="#ff0000"/>
<rect x="287.0" y="843" width="1" height="8" fill="#808080"/>
<rect x="285.0" y="850" width="5" height="44" fill="#848a8a"/>
<rect x="286.0" y="851" width="3" height="42" fill="#ff0000"/>
<rect x="294.0" y="848" width="1" height="3" fill="#808080"/>
<rect x="292.0" y="850" width="5" height="44" fill="#848a8a"/>
<rect x="293.0" y="851" width="3" height="42" fill="#ff0000"/>
<rect x="301.0" y="843" width="1" height="8" fill="#808080"/>
<rect x="299.0" y="850" width="5" height="44" fill="#848a8a"/>
<rect x="300.0" y="851" width="3" height="42" fill="#ff0000"/>
<rect x="308.0" y="850" width="1" height="12" fill="#808080"/>
<rect x="306.0" y="807" width="5" height="44" fill="#848a8a"/>
<rect x="307.0" y="808" width="3" height="42" fill="#008000"/>
<rect x="315.0" y="830" width="1" height="34" fill="#808080"/>
<rect x="313.0" y="840" width="5" height="11" fill="#848a8a"/>
<rect x="314.0" y="841" width="3" height="9" fill="#008000"/>
<rect x="320.0" y="807" width="5" height="44" fill="#848a8a"/>
<rect x="321.0" y="808" width="3" height="42" fill="#008000"/>
<rect x="326.0" y="807" width="5" height="44" fill="#848a8a"/>
<rect x="327.0" y="808" width="3" height="42" fill="#008000"/>
<rect x="335.0" y="850" width="1" height="2" fill="#808080"/>
<rect x="333.0" y="807" width="5" height="44" fill="#848a8a"/>
<rect x="334.0" y="808" width="3" height="42" fill="#008000"/>
<rect x="342.0" y="808" width="1" height="43" fill="#808080"/>
<rect x="340.0" y="850" width="5" height="44" fill="#848a8a"/>
<rect x="341.0" y="851" width="3" height="42" fill="#ff0000"/>
<rect x="349.0" y="812" width="1" height="39" fill="#808080"/>
<rect x="347.0" y="850" width="5" height="44" fill="#848a8a"/>
<rect x="348.0" y="851" width="3" height="42" fill="#ff0000"/>
<rect x="356.0" y="835" width="1" height="16" fill="#808080"/>
<rect x="354.0" y="850" width="5" height="44" fill="#848a8a"/>
<rect x="355.0" y="851" width="3" height="42" fill="#ff0000"/>
<rect x="363.0" y="846" width="1" height="5" fill="#808080"/>
<rect x="361.0" y="850" width="5" height="45" fill="#848a8a"/>
<rect x="362.0" y="851" width="3" height="43" fill="#ff0000"/>
<rect x="370.0" y="846" width="1" height="5" fill="#808080"/>
<rect x="368.0" y="850" width="5" height="44" fill="#848a8a"/>
<rect x="369.0" y="851" width="3" height="42" fill="#ff0000"/>
<rect x="377.0" y="845" width="1" height="6" fill="#808080"/>
<rect x="375.0" y="850" width="5" height="44" fill="#848a8a"/>
<rect x="376.0" y="851" width="3" height="42" fill="#ff0000"/>
<rect x="384.0" y="850" width="1" height="22" fill="#808080"/>
<rect x="382.0" y="807" width="5" height="44" fill="#848a8a"/>
<rect x="383.0" y="808" width="3" height="42" fill="#008000"/>
<rect x="391.0" y="838" width="1" height="13" fill="#808080"/>
<rect x="389.0" y="850" width="5" height="44" fill="#848a8a"/>
<rect x="390.0" y="851" width="3" height="42" fill="#ff0000"/>
<rect x="397.0" y="845" width="1" height="6" fill="#808080"/>
<rect x="395.0" y="850" width="5" height="44" fill="#848a8a"/>
<rect x="396.0" y="851" width="3" height="42" fill="#ff0000"/>
<rect x="404.0" y="847" width="1" height="43" fill="#808080"/>
<rect x="402.0" y="850" width="5" height="13" fill="#848a8a"/>
<rect x="403.0" y="851" width="3" height="11" fill="#ff0000"/>
<rect x="409.0" y="850" width="5" height="44" fill="#848a8a"/>
<rect x="410.0" y="851" width="3" height="42" fill="#ff0000"/>
<rect x="418.0" y="835" width="1" height="16" fill="#808080"/>
<rect x="416.0" y="850" width="5" height="44" fill="#848a8a"/>
<rect x="417.0" y="851" width="3" height="42" fill="#ff0000"/>
<rect x="425.0" y="842" width="1" height="9" fill="#808080"/>
<rect x="423.0" y="850" width="5" height="44" fill="#848a8a"/>
<rect x="424.0" y="851" width="3" height="42" fill="#ff0000"/>
<rect x="432.0" y="850" width="1" height="2" fill="#808080"/>
<rect x="430.0" y="807" width="5" height="44" fill="#848a8a"/>
<rect x="431.0" y="808" width="3" height="42" fill="#008000"/>
<rect x="439.0" y="850" width="1" height="2" fill="#808080"/>
<rect x="437.0" y="807" width="5" height="44" fill="#848a8a"/>
<rect x="438.0" y="808" width="3" height="42" fill="#008000"/>
<rect x="446.0" y="850" width="1" height="2" fill="#808080"/>
<rect x="444.0" y="807" width="5" height="44" fill="#848a8a"/>
<rect x="445.0" y="808" width="3" height="42" fill="#008000"/>
<rect x="453.0" y="850" width="1" height="2" fill="#808080"/>
<rect x="451.0" y="807" width="5" height="44" fill="#848a8a"/>
<rect x="452.0" y="808" width="3" height="42" fill="#008000"/>
<rect x="460.0" y="850" width="1" height="2" fill="#808080"/>
<rect x="458.0" y="807" width="5" height="44" fill="#848a8a"/>
<rect x="459.0" y="808" width="3" height="42" fill="#008000"/>
<rect x="465.0" y="807" width="5" height="44" fill="#848a8a"/>
<rect x="466.0" y="808" width="3" height="42" fill="#008000"/>
<rect x="473.0" y="850" width="1" height="12" fill="#808080"/>
<rect x="471.0" y="807" width="5" height="44" fill="#848a8a"/>
<rect x="472.0" y="808" width="3" height="42" fill="#008000"/>
<rect x="480.0" y="850" width="1" height="21" fill="#808080"/>
<rect x="478.0" y="807" width="5" height="44" fill="#848a8a"/>
<rect x="479.0" y="808" width="3" height="42" fill="#008000"/>
<rect x="487.0" y="848" width="1" height="3" fill="#808080"/>
<rect x="485.0" y="850" width="5" height="44" fill="#848a8a"/>
<rect x="486.0" y="851" width="3" height="42" fill="#ff0000"/>
<rect x="494.0" y="850" width="1" height="25" fill="#808080"/>
<rect x="492.0" y="807" width="5" height="44" fill="#848a8a"/>
<rect x="493.0" y="808" width="3" height="42" fill="#008000"/>
<rect x="501.0" y="842" width="1" height="9" fill="#808080"/>
<rect x="499.0" y="850" width="5" height="44" fill="#848a8a"/>
<rect x="500.0" y="851" width="3" height="42" fill="#ff0000"/>
<rect x="508.0" y="850" width="1" height="13" fill="#808080"/>
<rect x="506.0" y="807" width="5" height="44" fill="#848a8a"/>
<rect x="507.0" y="808" width="3" height="42" fill="#008000"/>
<rect x="515.0" y="850" width="1" height="4" fill="#808080"/>
<rect x="513.0" y="807" width="5" height="44" fill="#848a8a"/>
<rect x="514.0" y="808" width="3" height="42" fill="#008000"/>
<rect x="522.0" y="850" width="1" height="6" fill="#808080"/>
<rect x="520.0" y="807" width="5" height="44" fill="#848a8a"/>
<rect x="521.0" y="808" width="3" height="42" fill="#008000"/>
<rect x="529.0" y="850" width="1" height="14" fill="#808080"/>
<rect x="527.0" y="807" width="5" height="44" fill="#848a8a"/>
<rect x="528.0" y="808" width="3" height="42" fill="#008000"/>
<rect x="536.0" y="850" width="1" height="8" fill="#808080"/>
<rect x="534.0" y="807" width="5" height="44" fill="#848a8a"/>
<rect x="535.0" y="808" width="3" height="42" fill="#008000"/>
<rect x="542.0" y="850" width="1" height="3" fill="#808080"/>
<rect x="540.0" y="807" width="5" height="44" fill="#848a8a"/>
<rect x="541.0" y="808" width="3" height="42" fill="#008000"/>
<rect x="549.0" y="824" width="1" height="42" fill="#808080"/>
<rect x="547.0" y="850" width="5" height="3" fill="#848a8a"/>
<rect x="548.0" y="851" width="3" height="1" fill="#ff0000"/>
<rect x="554.0" y="807" width="5" height="44" fill="#848a8a"/>
<rect x="555.0" y="808" width="3" height="42" fill="#008000"/>
<rect x="563.0" y="850" width="1" height="20" fill="#808080"/>
<rect x="561.0" y="807" width="5" height="44" fill="#848a8a"/>
<rect x="562.0" y="808" width="3" height="42" fill="#008000"/>
<rect x="570.0" y="850" width="1" height="4" fill="#808080"/>
<rect x="568.0" y="807" width="5" height="44" fill="#848a8a"/>
<rect x="569.0" y="808" width="3" height="42" fill="#008000"/>
<rect x="577.0" y="850" width="1" height="23" fill="#808080"/>
<rect x="575.0" y="807" width="5" height="44" fill="#848a8a"/>
<rect x="576.0" y="808" width="3" height="42" fill="#008000"/>
<rect x="584.0" y="843" width="1" height="8" fill="#808080"/>
<rect x="582.0" y="850" width="5" height="44" fill="#848a8a"/>
<rect x="583.0" y="851" width="3" height="42" fill="#ff0000"/>
<rect x="591.0" y="812" width="1" height="39" fill="#808080"/>
<rect x="589.0" y="850" width="5" height="44" fill="#848a8a"/>
<rect x="590.0" y="851" width="3" height="42" fill="#ff0000"/>
<rect x="598.0" y="847" width="1" height="4" fill="#808080"/>
<rect x="596.0" y="850" width="5" height="44" fill="#848a8a"/>
<rect x="597.0" y="851" width="3" height="42" fill="#ff0000"/>
<rect x="605.0" y="844" width="1" height="7" fill="#808080"/>
<rect x="603.0" y="850" width="5" height="44" fill="#848a8a"/>
<rect x="604.0" y="851" width="3" height="42" fill="#ff0000"/>
<rect x="612.0" y="811" width="1" height="40" fill="#808080"/>
<rect x="610.0" y="850" width="5" height="45" fill="#848a8a"/>
<rect x="611.0" y="851" width="3" height="43" fill="#ff0000"/>
<rect x="618.0" y="846" width="1" height="5" fill="#808080"/>
<rect x="616.0" y="850" width="5" height="50" fill="#848a8a"/>
<rect x="617.0" y="851" width="3" height="48" fill="#ff0000"/>
<rect x="625.0" y="850" width="1" height="36" fill="#808080"/>
<rect x="623.0" y="807" width="5" height="44" fill="#848a8a"/>
<rect x="624.0" y="808" width="3" height="42" fill="#008000"/>
<rect x="632.0" y="822" width="1" height="29" fill="#808080"/>
<rect x="630.0" y="850" width="5" height="44" fill="#848a8a"/>
<rect x="631.0" y="851" width="3" height="42" fill="#ff0000"/>
<rect x="639.0" y="850" width="1" height="43" fill="#808080"/>
<rect x="637.0" y="807" width="5" height="44" fill="#848a8a"/>
<rect x="638.0" y="808" width="3" height="42" fill="#008000"/>
<rect x="646.0" y="840" width="1" height="11" fill="#808080"/>
<rect x="644.0" y="850" width="5" height="11" fill="#848a8a"/>
<rect x="645.0" y="851" width="3" height="9" fill="#ff0000"/>
<rect x="651.0" y="807" width="5" height="44" fill="#848a8a"/>
<rect x="652.0" y="808" width="3" height="42" fill="#008000"/>
<rect x="660.0" y="850" width="1" height="2" fill="#808080"/>
<rect x="658.0" y="807" width="5" height="44" fill="#848a8a"/>
<rect x="659.0" y="808" width="3" height="42" fill="#008000"/>
<rect x="667.0" y="846" width="1" height="5" fill="#808080"/>
<rect x="665.0" y="850" width="5" height="44" fill="#848a8a"/>
<rect x="666.0" y="851" width="3" height="42" fill="#ff0000"/>
<rect x="674.0" y="846" width="1" height="5" fill="#808080"/>
<rect x="672.0" y="850" width="5" height="44" fill="#848a8a"/>
<rect x="673.0" y="851" width="3" height="42" fill="#ff0000"/>
<rect x="681.0" y="850" width="1" height="13" fill="#808080"/>
<rect x="679.0" y="807" width="5" height="44" fill="#848a8a"/>
<rect x="680.0" y="808" width="3" height="42" fill="#008000"/>
<rect x="688.0" y="837" width="1" height="14" fill="#808080"/>
<rect x="686.0" y="850" width="5" height="46" fill="#848a8a"/>
<rect x="687.0" y="851" width="3" height="44" fill="#ff0000"/>
<rect x="694.0" y="819" width="1" height="32" fill="#808080"/>
<rect x="692.0" y="850" width="5" height="46" fill="#848a8a"/>
<rect x="693.0" y="851" width="3" height="44" fill="#ff0000"/>
<rect x="701.0" y="835" width="1" height="16" fill="#808080"/>
<rect x="699.0" y="850" width="5" height="44" fill="#848a8a"/>
<rect x="700.0" y="851" width="3" height="42" fill="#ff0000"/>
<rect x="708.0" y="850" width="1" height="36" fill="#808080"/>
<rect x="706.0" y="807" width="5" height="44" fill="#848a8a"/>
<rect x="707.0" y="808" width="3" height="42" fill="#008000"/>
<rect x="715.0" y="850" width="1" height="2" fill="#808080"/>
<rect x="713.0" y="807" width="5" height="44" fill="#848a8a"/>
<rect x="714.0" y="808" width="3" height="42" fill="#008000"/>
<rect x="720.0" y="850" width="5" height="44" fill="#848a8a"/>
<rect x="721.0" y="851" width="3" height="42" fill="#ff0000"/>
<rect x="727.0" y="850" width="5" height="47" fill="#848a8a"/>
<rect x="728.0" y="851" width="3" height="45" fill="#ff0000"/>
<rect x="736.0" y="850" width="1" height="25" fill="#808080"/>
<rect x="734.0" y="807" width="5" height="44" fill="#848a8a"/>
<rect x="735.0" y="808" width="3" height="42" fill="#008000"/>
<rect x="741.0" y="850" width="5" height="44" fill="#848a8a"/>
<rect x="742.0" y="851" width="3" height="42" fill="#ff0000"/>
<rect x="750.0" y="850" width="1" height="25" fill="#808080"/>
<rect x="748.0" y="807" width="5" height="44" fill="#848a8a"/>
<rect x="749.0" y="808" width="3" height="42" fill="#008000"/>
<rect x="757.0" y="850" width="1" height="23" fill="#808080"/>
<rect x="755.0" y="807" width="5" height="44" fill="#848a8a"/>
<rect x="756.0" y="808" width="3" height="42" fill="#008000"/>
<rect x="763.0" y="835" width="1" height="16" fill="#808080"/>
<rect x="761.0" y="850" width="5" height="44" fill="#848a8a"/>
<rect x="762.0" y="851" width="3" height="42" fill="#ff0000"/>
<rect x="770.0" y="850" width="1" height="2" fill="#808080"/>
<rect x="768.0" y="807" width="5" height="44" fill="#848a8a"/>
<rect x="769.0" y="808" width="3" height="42" fill="#008000"/>
<rect x="777.0" y="850" width="1" height="7" fill="#808080"/>
<rect x="775.0" y="807" width="5" height="44" fill="#848a8a"/>
<rect x="776.0" y="808" width="3" height="42" fill="#008000"/>
<rect x="784.0" y="822" width="1" height="29" fill="#808080"/>
<rect x="782.0" y="850" width="5" height="44" fill="#848a8a"/>
<rect x="783.0" y="851" width="3" height="42" fill="#ff0000"/>
<rect x="791.0" y="843" width="1" height="8" fill="#808080"/>
<rect x="789.0" y="850" width="5" height="48" fill="#848a8a"/>
<rect x="790.0" y="851" width="3" height="46" fill="#ff0000"/>
<rect x="796.0" y="850" width="5" height="44" fill="#848a8a"/>
<rect x="797.0" y="851" width="3" height="42" fill="#ff0000"/>
<rect x="805.0" y="849" width="1" height="2" fill="#808080"/>
<rect x="803.0" y="850" width="5" height="48" fill="#848a8a"/>
<rect x="804.0" y="851" width="3" height="46" fill="#ff0000"/>
<rect x="810.0" y="850" width="5" height="46" fill="#848a8a"/>
<rect x="811.0" y="851" width="3" height="44" fill="#ff0000"/>
<rect x="819.0" y="823" width="1" height="61" fill="#808080"/>
<rect x="817.0" y="850" width="5" height="28" fill="#848a8a"/>
<rect x="818.0" y="851" width="3" height="26" fill="#ff0000"/>
<rect x="824.0" y="850" width="5" height="44" fill="#848a8a"/>
<rect x="825.0" y="851" width="3" height="42" fill="#ff0000"/>
<rect x="833.0" y="850" width="1" height="6" fill="#808080"/>
<rect x="831.0" y="807" width="5" height="44" fill="#848a8a"/>
<rect x="832.0" y="808" width="3" height="42" fill="#008000"/>
<rect x="839.0" y="850" width="1" height="3" fill="#808080"/>
<rect x="837.0" y="807" width="5" height="44" fill="#848a8a"/>
<rect x="838.0" y="808" width="3" height="42" fill="#008000"/>
<rect x="846.0" y="847" width="1" height="4" fill="#808080"/>
<rect x="844.0" y="850" width="5" height="45" fill="#848a8a"/>
<rect x="845.0" y="851" width="3" height="43" fill="#ff0000"/>
<rect x="853.0" y="849" width="1" height="2" fill="#808080"/>
<rect x="851.0" y="850" width="5" height="48" fill="#848a8a"/>
<rect x="852.0" y="851" width="3" height="46" fill="#ff0000"/>
<rect x="860.0" y="850" width="1" height="38" fill="#808080"/>
<rect x="858.0" y="807" width="5" height="44" fill="#848a8a"/>
<rect x="859.0" y="808" width="3" height="42" fill="#008000"/>
<rect x="867.0" y="834" width="1" height="17" fill="#808080"/>
<rect x="865.0" y="850" width="5" height="44" fill="#848a8a"/>
<rect x="866.0" y="851" width="3" height="42" fill="#ff0000"/>
<rect x="874.0" y="850" width="1" height="16" fill="#808080"/>
<rect x="872.0" y="807" width="5" height="44" fill="#848a8a"/>
<rect x="873.0" y="808" width="3" height="42" fill="#008000"/>
<rect x="879.0" y="807" width="5" height="44" fill="#848a8a"/>
<rect x="880.0" y="808" width="3" height="42" fill="#008000"/>
<rect x="888.0" y="850" width="1" height="2" fill="#808080"/>
<rect x="886.0" y="807" width="5" height="44" fill="#848a8a"/>
<rect x="887.0" y="808" width="3" height="42" fill="#008000"/>
<rect x="893.0" y="807" width="5" height="44" fill="#848a8a"/>
<rect x="894.0" y="808" width="3" height="42" fill="#008000"/>
<rect x="902.0" y="850" width="1" height="4" fill="#808080"/>
<rect x="900.0" y="807" width="5" height="44" fill="#848a8a"/>
<rect x="901.0" y="808" width="3" height="42" fill="#008000"/>
</g>
<text x="2" y="468.6" font-size="12" textLength="191.6" lengthAdjust="spacing" fill="#000" stroke="#000" stroke-width="0.15">Volume Zone Oscillator(Bars, True)</text>
<text x="2" y="816.9" font-size="12" textLength="93.3" lengthAdjust="spacing" fill="#000" stroke="#000" stroke-width="0.15">Delta(Bars, True)</text>
<g stroke="#000" stroke-width="1" fill="#fff"><rect x="892.5" y="457.5" width="10" height="10"/><path d="M892.5 457.5l10 10M902.5 457.5l-10 10" fill="none" stroke-width="0.9"/></g>
<g stroke="#000" stroke-width="1" fill="#fff"><rect x="892.5" y="805.5" width="10" height="10"/><path d="M892.5 805.5l10 10M902.5 805.5l-10 10" fill="none" stroke-width="0.9"/></g>
<g font-size="11" letter-spacing="-0.12" fill="#000" stroke="#000" stroke-width="0.15">
<rect x="906" y="70.0" width="7" height="1" fill="#000" stroke="none" shape-rendering="crispEdges"/>
<text x="914.4" y="74.1">1,01750</text>
<rect x="906" y="118.0" width="7" height="1" fill="#000" stroke="none" shape-rendering="crispEdges"/>
<text x="914.4" y="122.1">1,01200</text>
<rect x="906" y="167.0" width="7" height="1" fill="#000" stroke="none" shape-rendering="crispEdges"/>
<text x="914.4" y="171.1">1,00650</text>
<rect x="906" y="215.0" width="7" height="1" fill="#000" stroke="none" shape-rendering="crispEdges"/>
<text x="914.4" y="219.1">1,00100</text>
<rect x="906" y="264.0" width="7" height="1" fill="#000" stroke="none" shape-rendering="crispEdges"/>
<text x="914.4" y="268.1">0,99550</text>
<rect x="906" y="312.0" width="7" height="1" fill="#000" stroke="none" shape-rendering="crispEdges"/>
<text x="914.4" y="316.1">0,99000</text>
<rect x="906" y="361.0" width="7" height="1" fill="#000" stroke="none" shape-rendering="crispEdges"/>
<text x="914.4" y="365.1">0,98450</text>
<rect x="906" y="409.0" width="7" height="1" fill="#000" stroke="none" shape-rendering="crispEdges"/>
<text x="914.4" y="413.1">0,97900</text>
<rect x="906" y="458.0" width="7" height="1" fill="#000" stroke="none" shape-rendering="crispEdges"/>
<text x="914.4" y="462.1">90.00</text>
<rect x="906" y="627.0" width="7" height="1" fill="#000" stroke="none" shape-rendering="crispEdges"/>
<text x="914.4" y="631.1">0</text>
<rect x="906" y="796.0" width="7" height="1" fill="#000" stroke="none" shape-rendering="crispEdges"/>
<text x="914.4" y="800.1">-90.00</text>
<rect x="906" y="850.0" width="7" height="1" fill="#000" stroke="none" shape-rendering="crispEdges"/>
<text x="914.4" y="854.1">0</text>
<rect x="906" y="900.0" width="7" height="1" fill="#000" stroke="none" shape-rendering="crispEdges"/>
<text x="914.4" y="904.1">-586.00</text>
<rect x="906" y="806" width="7" height="1" fill="#000" stroke="none" shape-rendering="crispEdges"/>
<text x="914.2" y="809.9">500.00</text>
</g>
<path d="M906.8 719.1l5.6-6.1h47.1v12.2h-47.1z" fill="#ff0000"/>
<text x="914.2" y="723.1" font-size="11" letter-spacing="-0.12" fill="#fff">-48,2443</text>
<path d="M906.6 808l5.7-6.7h22.2v13.3h-22.2z" fill="#008000"/>
<text x="913.5" y="811.9" font-size="11" letter-spacing="-0.12" fill="#fff">500</text>
<g font-size="11" letter-spacing="-0.12" fill="#000" stroke="#000" stroke-width="0.15">
<rect x="59.0" y="904" width="1" height="5" fill="#000" stroke="none" shape-rendering="crispEdges"/>
<text x="31.6" y="918.8">13:28:21</text>
<rect x="176.0" y="904" width="1" height="5" fill="#000" stroke="none" shape-rendering="crispEdges"/>
<text x="149.8" y="918.8">14:32:34</text>
<rect x="294.0" y="904" width="1" height="5" fill="#000" stroke="none" shape-rendering="crispEdges"/>
<text x="266.4" y="918.8">15:37:51</text>
<rect x="529.0" y="904" width="1" height="5" fill="#000" stroke="none" shape-rendering="crispEdges"/>
<text x="501.9" y="918.8">16:28:48</text>
<rect x="763.0" y="904" width="1" height="5" fill="#000" stroke="none" shape-rendering="crispEdges"/>
<text x="736.4" y="918.8">18:06:15</text>
<rect x="881.0" y="904" width="1" height="5" fill="#000" stroke="none" shape-rendering="crispEdges"/>
<text x="854.4" y="918.8">19:01:09</text>
</g>
<rect x="76.5" y="909.5" width="107" height="12" fill="#fff" stroke="#777" stroke-width="1" shape-rendering="crispEdges"/>
<text x="78.1" y="919" font-size="11" letter-spacing="-0.12" fill="#8e8e8e">26.10.2022 22:00:00</text>
<rect x="359.5" y="909.5" width="107" height="12" fill="#fff" stroke="#777" stroke-width="1" shape-rendering="crispEdges"/>
<text x="361.1" y="919" font-size="11" letter-spacing="-0.12" fill="#8e8e8e">30.10.2022 22:00:00</text>
<rect x="601.5" y="909.5" width="107" height="12" fill="#fff" stroke="#777" stroke-width="1" shape-rendering="crispEdges"/>
<text x="603.1" y="919" font-size="11" letter-spacing="-0.12" fill="#8e8e8e">01.11.2022 22:00:00</text>
<rect x="775.5" y="909.5" width="107" height="12" fill="#fff" stroke="#777" stroke-width="1" shape-rendering="crispEdges"/>
<text x="777.1" y="919" font-size="11" letter-spacing="-0.12" fill="#8e8e8e">02.11.2022 22:00:00</text>
<rect x="128.0" y="904" width="1" height="5" fill="#7c7c7c" shape-rendering="crispEdges"/>
<rect x="411.0" y="904" width="1" height="5" fill="#7c7c7c" shape-rendering="crispEdges"/>
<rect x="653.0" y="904" width="1" height="5" fill="#7c7c7c" shape-rendering="crispEdges"/>
<rect x="826.0" y="904" width="1" height="5" fill="#7c7c7c" shape-rendering="crispEdges"/>
<rect x="411.0" y="904" width="1" height="5" fill="#000" shape-rendering="crispEdges"/>
<rect x="646.0" y="904" width="1" height="5" fill="#000" shape-rendering="crispEdges"/>
<rect x="860.5" y="31.5" width="20" height="20" fill="#fff" stroke="#000" stroke-width="1"/>
<path d="M865.5 36v11.5l7.5-5.75z" fill="#000"/><rect x="873.3" y="36" width="2.4" height="11.5" fill="#000"/>
<rect x="948.5" y="31.5" width="12" height="12" fill="#fff" stroke="#000" stroke-width="1"/>
<text x="951.7" y="40.8" font-size="8.8" fill="#000">F</text>
<rect x="0" y="923.5" width="964" height="3.5" fill="#e7e7ef"/>
<rect x="963" y="28" width="1" height="899" fill="#e7e7ef"/>
<g id="toolbar">
<rect x="0" y="0" width="964" height="28" fill="#f3f3f6"/>
<rect x="0" y="0" width="964" height="1" fill="#0a78d4"/>
<rect x="0" y="1" width="964" height="0.6" fill="#7db7e8"/>
<rect x="0" y="27.5" width="964" height="1" fill="#eaeaf2"/>
<path d="M2.1 13.8L6.2 7.3h7.7l4.1 6.5-4.1 6.7H6.2z" fill="#fff" stroke="#1c1c1c" stroke-width="1.4" stroke-linejoin="round"/>
<path d="M2.6 13.8L5.2 10.9h4.3L6.2 17.4z" fill="#1c1c1c"/>
<path d="M10.3 16.4l2.1-3.3 2 3.3z" fill="#1c1c1c"/>
<path d="M5.2 10.9h7.2M6.4 17.4h7" stroke="#1c1c1c" stroke-width="0.8" fill="none"/>
<text x="26" y="18.2" font-size="12.4" textLength="68.6" lengthAdjust="spacingAndGlyphs" fill="#1c1c1c">#6EZ2@CME</text>
<text x="120.6" y="18.2" font-size="12.4" textLength="79.8" lengthAdjust="spacingAndGlyphs" fill="#1c1c1c">500 Delta chart</text>
<text x="548.2" y="18.4" font-size="12.4" textLength="28.2" lengthAdjust="spacingAndGlyphs" fill="#1c1c1c">Chart</text>
<circle cx="105" cy="11.5" r="3.9" fill="none" stroke="#1c1c1c" stroke-width="1.9"/>
<path d="M108 14.6l3.8 4" stroke="#1c1c1c" stroke-width="2.4" stroke-linecap="round"/>
<path d="M206.1 11h7.8l-3.9 4.1z" fill="#1c1c1c"/>
<path d="M242.0 11h7.8l-3.9 4.1z" fill="#1c1c1c"/>
<path d="M278.2 11h7.8l-3.9 4.1z" fill="#1c1c1c"/>
<path d="M392.1 11h7.8l-3.9 4.1z" fill="#1c1c1c"/>
<path d="M428.0 11h7.8l-3.9 4.1z" fill="#1c1c1c"/>
<path d="M689.0 11h7.8l-3.9 4.1z" fill="#1c1c1c"/>
<path d="M725.0 11h7.8l-3.9 4.1z" fill="#1c1c1c"/>
<path d="M839.2 11h7.8l-3.9 4.1z" fill="#1c1c1c"/>
<path d="M875.2 11h7.8l-3.9 4.1z" fill="#1c1c1c"/>
<rect x="222.5" y="9.6" width="11.9" height="7.6" fill="#fcfcfd" stroke="#1c1c1c" stroke-width="1.3"/>
<path d="M224.8 11.4h7.6M224.8 13.4h7.6M224.8 15.3h7.6" stroke="#444" stroke-width="0.6"/>
<path d="M226.6 17.6h4.4l0.8 1.6h-6z" fill="#1c1c1c"/>
<path d="M258.4 19.3L259.7 16.2L269.3 7.3L271.2 9.3L261.6 18.2Z" fill="#f6f6f8" stroke="#1c1c1c" stroke-width="1.15" stroke-linejoin="round"/>
<path d="M258.3 19.4L259.5 16.6L261.2 18.3Z" fill="#1c1c1c"/><path d="M267.7 8.8L269.7 10.8" stroke="#1c1c1c" stroke-width="1.1"/>
<circle cx="298.5" cy="11.7" r="3.8" fill="none" stroke="#1c1c1c" stroke-width="1.3"/>
<path d="M297 11.7h3M298.5 10.2v3" stroke="#1c1c1c" stroke-width="1"/>
<path d="M301.4 14.6l4.9 4.7" stroke="#1c1c1c" stroke-width="1.7" stroke-linecap="round"/>
<path d="M320.7 7.1v11.5h12.2" fill="none" stroke="#1c1c1c" stroke-width="1.5"/>
<path d="M323.9 15.2l1.9-4.3 3.3 3.3 2.3-4.7" fill="none" stroke="#1c1c1c" stroke-width="1.3" stroke-linejoin="round"/>
<path d="M349.6 17.2V7.8h7.8q1.5 0 1.5 1.6M356.3 7.8v10.8" fill="none" stroke="#1c1c1c" stroke-width="1.3"/>
<path d="M346.6 18.4h9.6" stroke="#1c1c1c" stroke-width="2"/>
<path d="M371.9 13.35h12.9M378.45 7.1v12.6" stroke="#1c1c1c" stroke-width="3"/>
<rect x="408.6" y="10.7" width="10" height="8" fill="#f3f3f6" stroke="#7a7a7a" stroke-width="1.1"/>
<rect x="410.6" y="8.9" width="9.8" height="7.8" fill="#f9f9fb" stroke="#333" stroke-width="1.1"/>
<rect x="444.2" y="8.4" width="12.5" height="10.6" fill="#1e1e1e"/>
<rect x="452.6" y="9.6" width="0.8" height="9.4" fill="#8a8a8a"/>
<rect x="453.8" y="10.2" width="2.2" height="1.4" fill="#bdbdbd"/><rect x="453.8" y="12.9" width="2.2" height="1.4" fill="#bdbdbd"/><rect x="453.8" y="15.6" width="2.2" height="1.4" fill="#bdbdbd"/>
<path d="M680.2 9.3l-3.9 4M671.2 18.6l3.8-3.9M676.3 9.6v3.7h3.7M675 18.3v-3.6h-3.7" fill="none" stroke="#1c1c1c" stroke-width="1.05"/>
<path d="M672 9.8l7.2 7.8" stroke="#1c1c1c" stroke-width="0.9"/>
<g fill="none" stroke="#1c1c1c" stroke-width="1.6"><rect x="-3.3" y="-1.5" width="6.6" height="3" rx="1.5" transform="translate(714.3 10.7) rotate(-42)"/><rect x="-3.3" y="-1.5" width="6.6" height="3" rx="1.5" transform="translate(709 15.7) rotate(-42)"/></g>
<path d="M710.6 14.2l2.2-2" stroke="#1c1c1c" stroke-width="1.5"/>
<path d="M741.6 11.6q0-1.2 1.2-1.2h1.6l0.8-1.6h4.4l0.8 1.6h1.6q1.2 0 1.2 1.2v5.4q0 1.2-1.2 1.2h-9.2q-1.2 0-1.2-1.2z" fill="none" stroke="#1c1c1c" stroke-width="1"/>
<circle cx="747.4" cy="14.1" r="2.1" fill="none" stroke="#1c1c1c" stroke-width="1"/>
<path d="M768 8l11 11M779 8l-11 11" stroke="#1c1c1c" stroke-width="1.5" fill="none"/>
<path d="M767 7.1h4.6l-4.6 4.6zM780.1 7.1v4.6l-4.6-4.6zM767 19.7v-4.6l4.6 4.6zM780.1 19.7h-4.6l4.6-4.6z" fill="#1c1c1c"/>
<circle cx="773.55" cy="13.4" r="1.6" fill="#f3f3f6"/>
<rect x="794" y="8" width="7" height="7" fill="#f3f3f6" stroke="#555" stroke-width="1.3"/>
<rect x="798" y="11.8" width="7.2" height="7.2" fill="#f8f8fa" stroke="#555" stroke-width="1.3"/>
<rect x="821.3" y="12.2" width="8.3" height="7.3" rx="1.2" fill="#1c1c1c"/>
<path d="M822.6 12.4v-1.6q0-3.2 2.9-3.2 2.4 0 2.9 2.2" fill="none" stroke="#1c1c1c" stroke-width="1.4"/>
<rect x="824.8" y="15" width="1.4" height="2.4" fill="#f3f3f6"/>
<circle cx="861" cy="12.75" r="6.6" fill="#f9f9fb" stroke="#b4b4b4" stroke-width="1"/>
<path d="M893.6 11.4l8.2 7M903.2 9.3l-8.2 9.2" stroke="#1c1c1c" stroke-width="1.7" stroke-linecap="round" fill="none"/>
<path d="M892.2 11.8l3.4-3.6 2 1.8-3.4 3.6z" fill="#1c1c1c"/>
<path d="M900.6 8.6l2.2-0.4-1 1.8 1.8 0.6-1.2 1.4-2-0.4z" fill="#1c1c1c"/>
<path d="M924 9.4h3.4v5.4h-3.4z" fill="#f3f3f6" stroke="#1c1c1c" stroke-width="1.2"/><path d="M927 9.4v5.4" stroke="#1c1c1c" stroke-width="1.8"/>
<path d="M922.1 15h6.6M925.45 15v4.8" stroke="#1c1c1c" stroke-width="1.2"/>
<path d="M947.4 10.4l9.4 7.8M956.8 10.4l-9.4 7.8" stroke="#1c1c1c" stroke-width="1.6"/>
</g>
</svg></body></html>
